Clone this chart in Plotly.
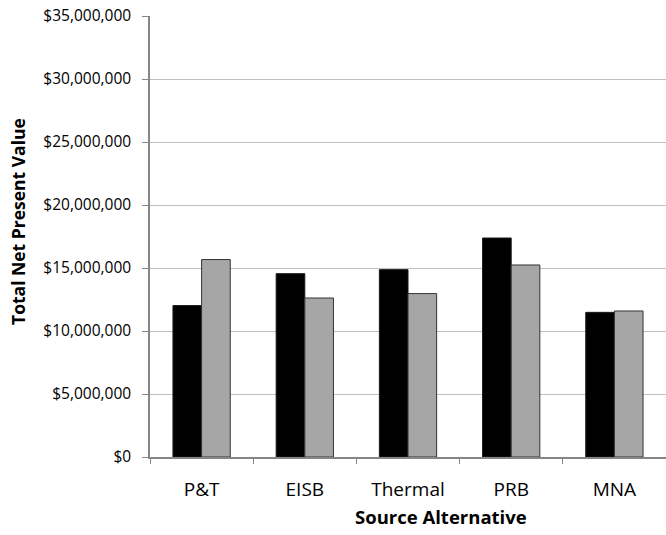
import plotly.graph_objects as go

# Total net present value by source alternative, two cost scenarios
categories = ["P&T", "EISB", "Thermal", "PRB", "MNA"]
series_a = [12020000, 14550000, 14870000, 17380000, 11480000]
series_b = [15670000, 12620000, 12970000, 15240000, 11590000]
y_ticks = [0, 5000000, 10000000, 15000000, 20000000, 25000000, 30000000, 35000000]
y_tick_text = ["$0", "$5,000,000", "$10,000,000", "$15,000,000", "$20,000,000",
               "$25,000,000", "$30,000,000", "$35,000,000"]

FONT = "Open Sans"
AXIS_GREY = "#868686"
W, H = 666, 535
ML, MR, MT, MB = 150, 0, 16, 78

fig = go.Figure()
fig.add_trace(go.Bar(
    x=categories, y=series_a, name="A",
    marker=dict(color="#000000", line=dict(color="#1a1a1a", width=1)),
))
fig.add_trace(go.Bar(
    x=categories, y=series_b, name="B",
    marker=dict(color="#a6a6a6", line=dict(color="#333333", width=1)),
))


def px_to_paper(px, py):
    """Convert page pixel coordinates into paper coordinates."""
    return (px - ML) / (W - ML - MR), (H - MB - py) / (H - MT - MB)


xt_x, xt_y = px_to_paper(441, 516)
yt_x, yt_y = px_to_paper(18, 222)

fig.update_layout(
    width=W, height=H,
    margin=dict(l=ML, r=MR, t=MT, b=MB),
    paper_bgcolor="white", plot_bgcolor="white",
    barmode="group", bargap=0.445, bargroupgap=0,
    showlegend=False,
    font=dict(family=FONT, color="#000000"),
    xaxis=dict(
        type="category",
        showline=True, linecolor=AXIS_GREY, linewidth=1.5,
        ticks="outside", tickson="boundaries", ticklen=5, tickcolor=AXIS_GREY,
        tickfont=dict(family=FONT, size=19, color="#000000"),
        ticklabelstandoff=14,
        showgrid=False,
    ),
    yaxis=dict(
        range=[0, 35000000],
        tickvals=y_ticks, ticktext=y_tick_text,
        showline=True, linecolor=AXIS_GREY, linewidth=1.5,
        ticks="outside", ticklen=6, tickcolor=AXIS_GREY,
        tickfont=dict(family=FONT, size=15.5, color="#000000"),
        ticklabelstandoff=8,
        showgrid=True, gridcolor="#c0c0c0", gridwidth=1,
        zeroline=False,
    ),
    annotations=[
        dict(text="<b>Source Alternative</b>", x=xt_x, y=xt_y,
             xref="paper", yref="paper", xanchor="center", yanchor="middle",
             showarrow=False,
             font=dict(family=FONT, size=18.5, color="#000000")),
        dict(text="<b>Total Net Present Value</b>", x=yt_x, y=yt_y,
             xref="paper", yref="paper", xanchor="center", yanchor="middle",
             showarrow=False, textangle=-90,
             font=dict(family=FONT, size=17.5, color="#000000")),
    ],
)

fig.write_html("out.html")
